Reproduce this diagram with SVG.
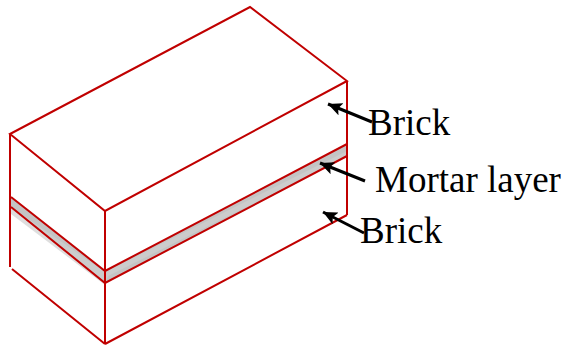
<svg xmlns="http://www.w3.org/2000/svg" width="568" height="347" viewBox="0 0 568 347">
<style>
.e{fill:none;stroke:#c00000;stroke-width:2;stroke-linejoin:miter}
.m{fill:none;stroke:#c00000;stroke-width:2}
.a{stroke:#000;stroke-width:3;fill:none;marker-end:url(#h)}
text{font-family:"Liberation Serif","Times New Roman",serif;font-size:37px;fill:#000}
</style>
<defs><marker id="h" markerUnits="userSpaceOnUse" markerWidth="16" markerHeight="14" refX="14" refY="6.5" orient="auto"><path d="M0 0L14 6.5L0 13L3 6.5Z" fill="#000"/></marker></defs>
<rect width="568" height="347" fill="#fff"/>
<g id="mortar">
<path d="M11 197L105 271L347 144V156L105 283L11 207Z" fill="#c4c4c4"/>
<path d="M11 207V214L105 285L108 276L347 157V151L105 272Z" fill="#d0d0d0" opacity=".7"/>
</g>
<g id="brick-top">
<path class="e" d="M10 134L250 7L347 81L105 211Z"/>
<path class="e" d="M10 134V267M105 211V344M347 81V215"/>
</g>
<g id="brick-bottom">
<path class="e" d="M105 344L347 215M12 269L105 344"/>
</g>
<g id="mortar-edges">
<path class="m" d="M11 197L105 271L347 144M11 207L105 283L347 156"/>
</g>
<g id="connectors">
<path class="a" d="M372 122L328 104"/>
<path class="a" d="M365 181L320 163"/>
<path class="a" d="M364 233L323 212"/>
</g>
<g id="label-brick-top"><text x="368" y="135">Brick</text></g>
<g id="label-mortar"><text x="375" y="192">Mortar layer</text></g>
<g id="label-brick-bottom"><text x="360" y="243">Brick</text></g>
</svg>
